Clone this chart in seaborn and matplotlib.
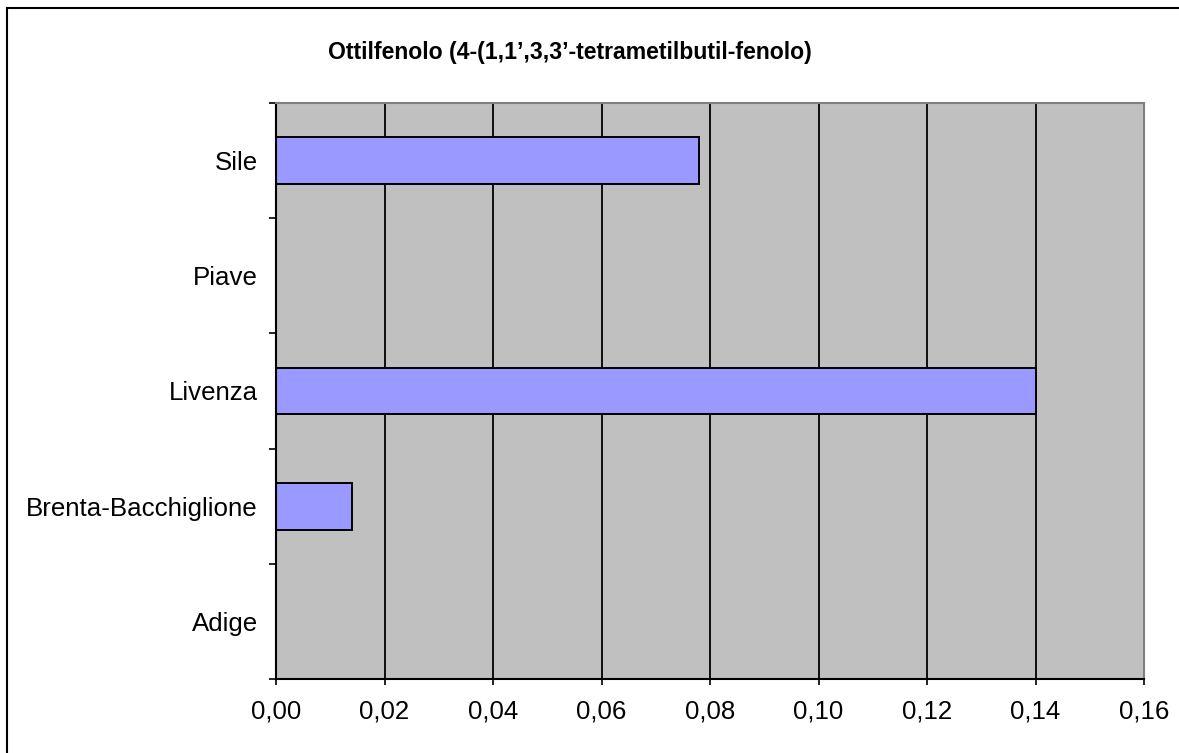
import numpy as np
import pandas as pd
import matplotlib
matplotlib.use("Agg")
import matplotlib.pyplot as plt
from matplotlib.patches import Rectangle
from matplotlib.ticker import FuncFormatter, FixedLocator
import seaborn as sns

# data
rivers = ["Sile", "Piave", "Livenza", "Brenta-Bacchiglione", "Adige"]
values = [0.078, np.nan, 0.14, 0.014, np.nan]
x_ticks = [0.00, 0.02, 0.04, 0.06, 0.08, 0.10, 0.12, 0.14, 0.16]
title = "Ottilfenolo (4-(1,1\u2019,3,3\u2019-tetrametilbutil-fenolo)"

df = pd.DataFrame({"fiume": rivers, "valore": values})

sns.set_theme(style="white")
plt.rcParams["font.family"] = ["Liberation Sans", "DejaVu Sans"]

fig = plt.figure(figsize=(11.79, 7.53), dpi=100)
ax = fig.add_axes([276 / 1179, 1 - 679 / 753, 868 / 1179, 576 / 753])

sns.barplot(data=df, x="valore", y="fiume", order=rivers, orient="h",
            color="#9999FF", saturation=1, width=0.405,
            edgecolor="black", linewidth=1.4, errorbar=None, ax=ax)

ax.set_facecolor("#C0C0C0")
ax.set_xlim(0, 0.16)
ax.set_ylim(len(rivers) - 0.5, -0.5)
ax.xaxis.set_major_locator(FixedLocator(x_ticks))
ax.xaxis.set_major_formatter(FuncFormatter(lambda v, p: f"{v:.2f}".replace(".", ",")))
ax.grid(axis="x", color="black", linewidth=1.3)
ax.grid(axis="y", visible=False)
ax.set_axisbelow(True)
ax.set_xlabel("")
ax.set_ylabel("")

# category labels centred, ticks on the category boundaries
ax.set_yticks(np.arange(len(rivers) + 1) - 0.5, minor=True)
ax.tick_params(axis="y", which="major", length=0, pad=13, labelsize=18.6, colors="black")
ax.tick_params(axis="y", which="minor", left=True, length=5, width=1.2, color="black")
ax.tick_params(axis="x", which="major", bottom=True, length=4, width=1.2,
               color="black", pad=11, labelsize=18.6, labelcolor="black")

for side in ["left", "bottom"]:
    ax.spines[side].set_color("black")
    ax.spines[side].set_linewidth(1.5)
for side in ["top", "right"]:
    ax.spines[side].set_color("#808080")
    ax.spines[side].set_linewidth(1.5)

fig.text(570 / 1179, 1 - 53 / 753, title, ha="center", va="center",
         fontsize=16.6, fontweight="bold", color="black")

# outer chart border (right and bottom edges fall outside the image)
fig.patches.append(Rectangle((6.5 / 1179, -0.05), 1.2, 1 - 8.5 / 753 + 0.05,
                             transform=fig.transFigure, fill=False,
                             edgecolor="black", linewidth=1.5))

fig.savefig("out.png", dpi=100, facecolor="white")
